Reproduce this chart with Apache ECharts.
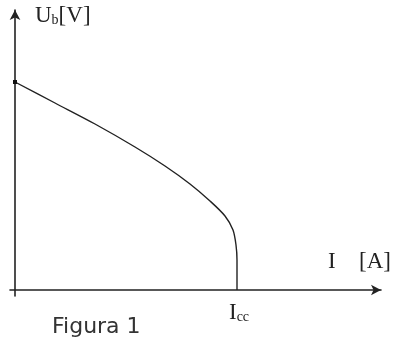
<!DOCTYPE html>
<html>
<head>
<meta charset="utf-8">
<script src="https://cdn.jsdelivr.net/npm/echarts@6/dist/echarts.min.js"></script>
<style>
html, body { margin: 0; padding: 0; background: #fff; }
#main { width: 393px; height: 345px; }
</style>
</head>
<body>
<div id="main"></div>
<script>
// curva U_b(I)
var corrente = [0, 40, 80, 120, 150, 175, 195, 210, 218, 221, 222, 222];
var tensione = [208, 187, 166, 143, 124, 106, 89, 74, 60, 45, 30, 0];

var punti = [];
for (var i = 0; i < corrente.length; i++) {
    punti.push([corrente[i], tensione[i]]);
}
punti[0] = { value: punti[0], symbol: 'rect', symbolSize: 4 };

var myChart = echarts.init(document.getElementById('main'));

var serif = 'Liberation Serif';

var option = {
    animation: false,
    grid: { left: 10, right: 12, top: 10, bottom: 49 },
    xAxis: {
        type: 'value',
        min: -5,
        max: 366,
        splitLine: { show: false },
        axisTick: { show: false },
        axisLabel: { show: false },
        axisLine: {
            onZero: true,
            symbol: ['none', 'arrow'],
            symbolSize: [8, 10],
            lineStyle: { color: '#222', width: 1.6 }
        }
    },
    yAxis: {
        type: 'value',
        min: -6,
        max: 280,
        splitLine: { show: false },
        axisTick: { show: false },
        axisLabel: { show: false },
        axisLine: {
            onZero: true,
            symbol: ['none', 'arrow'],
            symbolSize: [8, 10],
            lineStyle: { color: '#222', width: 1.6 }
        }
    },
    series: [{
        type: 'line',
        data: punti,
        smooth: 0.3,
        showSymbol: true,
        symbol: 'none',
        itemStyle: { color: '#111' },
        lineStyle: { color: '#222', width: 1.4 }
    }],
    graphic: [
        {
            type: 'text', left: 35, top: 4,
            style: {
                text: '{a|U}{b|b}{a|[V]}',
                rich: {
                    a: { fontFamily: serif, fontSize: 23, fill: '#222' },
                    b: { fontFamily: serif, fontSize: 14, fill: '#222', padding: [10, 0, 0, 0] }
                }
            }
        },
        {
            type: 'text', left: 328, top: 250,
            style: { text: 'I', fontFamily: serif, fontSize: 23, fill: '#222' }
        },
        {
            type: 'text', left: 359, top: 250,
            style: { text: '[A]', fontFamily: serif, fontSize: 23, fill: '#222' }
        },
        {
            type: 'text', left: 229, top: 301,
            style: {
                text: '{a|I}{b|cc}',
                rich: {
                    a: { fontFamily: serif, fontSize: 23, fill: '#222' },
                    b: { fontFamily: serif, fontSize: 14, fill: '#222', padding: [10, 0, 0, 0] }
                }
            }
        },
        {
            type: 'text', left: 52, top: 316,
            style: { text: 'Figura 1', fontFamily: 'DejaVu Sans', fontSize: 22, fill: '#333' }
        }
    ]
};

myChart.setOption(option);
</script>
</body>
</html>
